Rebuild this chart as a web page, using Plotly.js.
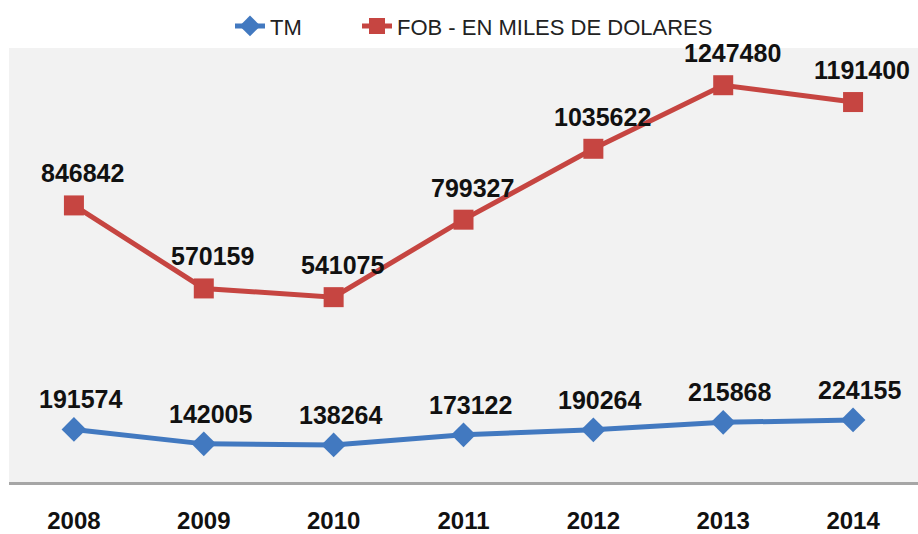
<!DOCTYPE html>
<html>
<head>
<meta charset="utf-8">
<script src="https://cdn.plot.ly/plotly-3.0.1.min.js"></script>
<style>html,body{margin:0;padding:0;background:#fff;}#chart{width:918px;height:534px;}</style>
</head>
<body>
<div id="chart"></div>
<script>
const years = ["2008", "2009", "2010", "2011", "2012", "2013", "2014"];
const tmValues = [191574, 142005, 138264, 173122, 190264, 215868, 224155];
const fobValues = [846842, 570159, 541075, 799327, 1035622, 1247480, 1191400];
const tmName = "TM";
const fobName = "FOB - EN MILES DE DOLARES";

const tmColor = "#4279C0";
const fobColor = "#C64541";
const FONT = "Liberation Sans, Arial, sans-serif";

const traces = [
  {
    x: years, y: tmValues, name: tmName, type: "scatter", mode: "lines+markers",
    yaxis: "y2", legend: "legend",
    line: {color: tmColor, width: 5},
    marker: {symbol: "diamond", size: 19, color: tmColor}
  },
  {
    x: years, y: fobValues, name: fobName, type: "scatter", mode: "lines+markers",
    yaxis: "y", legend: "legend2",
    line: {color: fobColor, width: 5},
    marker: {symbol: "square", size: 20, color: fobColor}
  }
];

const annotations = [];
for (let i = 0; i < years.length; i++) {
  annotations.push({
    x: i, y: fobValues[i], xref: "x", yref: "y",
    text: "<b>" + fobValues[i] + "</b>", showarrow: false,
    xanchor: "center", yanchor: "middle", xshift: 9, yshift: 32,
    font: {family: FONT, size: 25, color: "#111111"}
  });
  annotations.push({
    x: i, y: tmValues[i], xref: "x", yref: "y2",
    text: "<b>" + tmValues[i] + "</b>", showarrow: false,
    xanchor: "center", yanchor: "middle", xshift: 7, yshift: 30,
    font: {family: FONT, size: 25, color: "#111111"}
  });
}

const legendBase = {
  orientation: "h", xref: "container", yref: "container",
  xanchor: "left", y: 0.951, yanchor: "middle",
  font: {family: FONT, size: 22, color: "#222222"},
  bgcolor: "rgba(0,0,0,0)", borderwidth: 0
};

const layout = {
  width: 918, height: 534,
  margin: {l: 9, r: 0, t: 48, b: 52},
  paper_bgcolor: "#ffffff",
  plot_bgcolor: "#f2f2f2",
  showlegend: true,
  legend: Object.assign({}, legendBase, {x: 230 / 918}),
  legend2: Object.assign({}, legendBase, {x: 357 / 918}),
  xaxis: {
    type: "category", range: [-0.5, 6.5],
    showgrid: false, zeroline: false,
    showline: true, linecolor: "#a6a6a6", linewidth: 3,
    ticks: "", ticklabelstandoff: 15,
    tickfont: {family: FONT, size: 24, color: "#111111", weight: "bold"}
  },
  yaxis: {
    range: [-74993, 1371540], visible: false, showgrid: false, zeroline: false
  },
  yaxis2: {
    range: [10995, 1502219], overlaying: "y", visible: false, showgrid: false, zeroline: false
  },
  annotations: annotations
};

Plotly.newPlot("chart", traces, layout, {staticPlot: true, displayModeBar: false});
</script>
</body>
</html>
